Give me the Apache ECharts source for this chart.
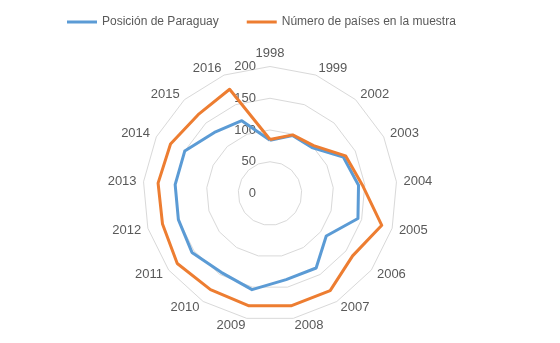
<!DOCTYPE html>
<html>
<head>
<meta charset="utf-8">
<script src="https://cdn.jsdelivr.net/npm/echarts@6/dist/echarts.min.js"></script>
<style>
  html, body { margin: 0; padding: 0; background: #ffffff; }
  #chart { width: 560px; height: 343px; }
</style>
</head>
<body>
<div id="chart"></div>
<script>
// Years of the index (clockwise from the top)
const years = ['1998', '1999', '2002', '2003', '2004', '2005', '2006', '2007', '2008',
               '2009', '2010', '2011', '2012', '2013', '2014', '2015', '2016'];
// Rank of Paraguay in each year
const posicionParaguay = [84, 98, 98, 129, 140, 144, 111, 138, 138, 154, 146, 154, 150, 150, 150, 130, 123];
// Number of countries in the sample
const paisesMuestra = [85, 99, 102, 133, 146, 183, 163, 180, 180, 180, 178, 183, 176, 177, 175, 168, 176];
// Radial scale
const radialMin = 0;
const radialMax = 200;
const radialStep = 50;

const BLUE = '#5B9BD5';
const ORANGE = '#ED7D31';
const TEXT = '#595959';
const FONT = 'Liberation Sans';

// ECharts lays indicators out counter-clockwise; reorder so the years run clockwise
const order = [0].concat(years.map((_, i) => i).slice(1).reverse());
const pick = arr => order.map(i => arr[i]);

const indicators = pick(years).map((y, k) => ({
  name: y,
  min: radialMin,
  max: radialMax,
  axisLabel: { show: k === 0 }
}));

const chart = echarts.init(document.getElementById('chart'), null, { renderer: 'canvas' });
chart.setOption({
  animation: false,
  backgroundColor: '#ffffff',
  legend: {
    top: 11,
    left: 62,
    icon: 'rect',
    itemWidth: 30,
    itemHeight: 3,
    itemGap: 28,
    textStyle: { color: TEXT, fontSize: 12, fontFamily: FONT },
    data: ['Posición de Paraguay', 'Número de países en la muestra']
  },
  radar: {
    center: [270, 193.5],
    radius: 127,
    startAngle: 90,
    shape: 'polygon',
    splitNumber: (radialMax - radialMin) / radialStep,
    indicator: indicators,
    nameGap: 7,
    axisName: { color: TEXT, fontSize: 13, fontFamily: FONT },
    axisLine: { show: false },
    axisTick: { show: false },
    axisLabel: { show: false, color: TEXT, fontSize: 13, fontFamily: FONT, margin: 14 },
    splitArea: { show: false },
    splitLine: { lineStyle: { color: '#d9d9d9', width: 1 } }
  },
  series: [{
    type: 'radar',
    symbol: 'none',
    data: [
      {
        name: 'Posición de Paraguay',
        value: pick(posicionParaguay),
        lineStyle: { color: BLUE, width: 3 },
        itemStyle: { color: BLUE }
      },
      {
        name: 'Número de países en la muestra',
        value: pick(paisesMuestra),
        lineStyle: { color: ORANGE, width: 3 },
        itemStyle: { color: ORANGE }
      }
    ]
  }]
});
</script>
</body>
</html>
